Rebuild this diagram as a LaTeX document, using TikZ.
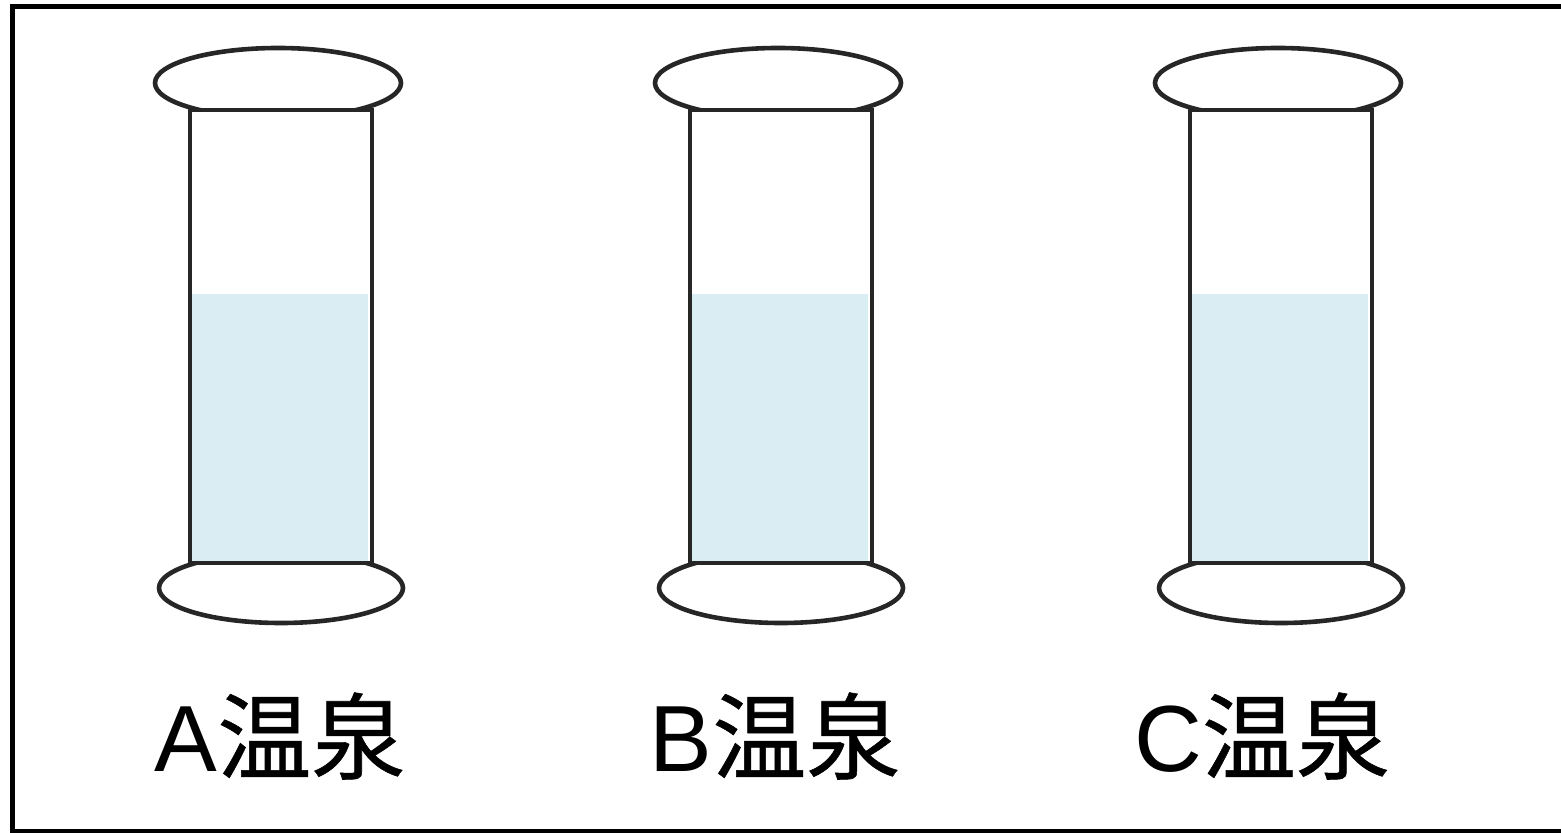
\documentclass[tikz,border=0pt]{standalone}
\usepackage{fontspec}
\usepackage{tikz}
\newfontfamily\jpfont{Noto Sans CJK JP}[FakeBold=0.6]
\newfontfamily\latinfont{Liberation Sans}
\definecolor{water}{HTML}{DAEDF2}
\definecolor{rimgray}{HTML}{262626}

\begin{document}
\begin{tikzpicture}[x=0.5pt, y=-0.5pt,
    glass/.style={draw=rimgray, line width=2.3pt},
    rim/.style={glass, fill=white},
    tag/.style={font=\fontsize{47}{47}\selectfont, inner sep=0pt}]
    \useasboundingbox (0,0) rectangle (1561,833);
    % Frame
    \draw[line width=2.5pt] (1561,7) -- (12.5,7) -- (12.5,831) -- (1561,831);
    % Cylinders
    \foreach \name/\dx/\tx in {A/0/280, B/500/775, C/1000/1262} {
      \begin{scope}[shift={(\dx,0)}]
        \draw[rim] (278,83) ellipse [x radius=123, y radius=35];
        \draw[rim] (281,588) ellipse [x radius=122, y radius=35];
        \fill[white] (190,110) rectangle (372,563);
        \fill[water] (190,294) rectangle (368,563);
        \draw[glass] (190,110) rectangle (372,563);
      \end{scope}
      \node[tag] (label\name) at (\tx,736) {{\latinfont\name}{\jpfont 温泉}};
    }
\end{tikzpicture}
\end{document}
